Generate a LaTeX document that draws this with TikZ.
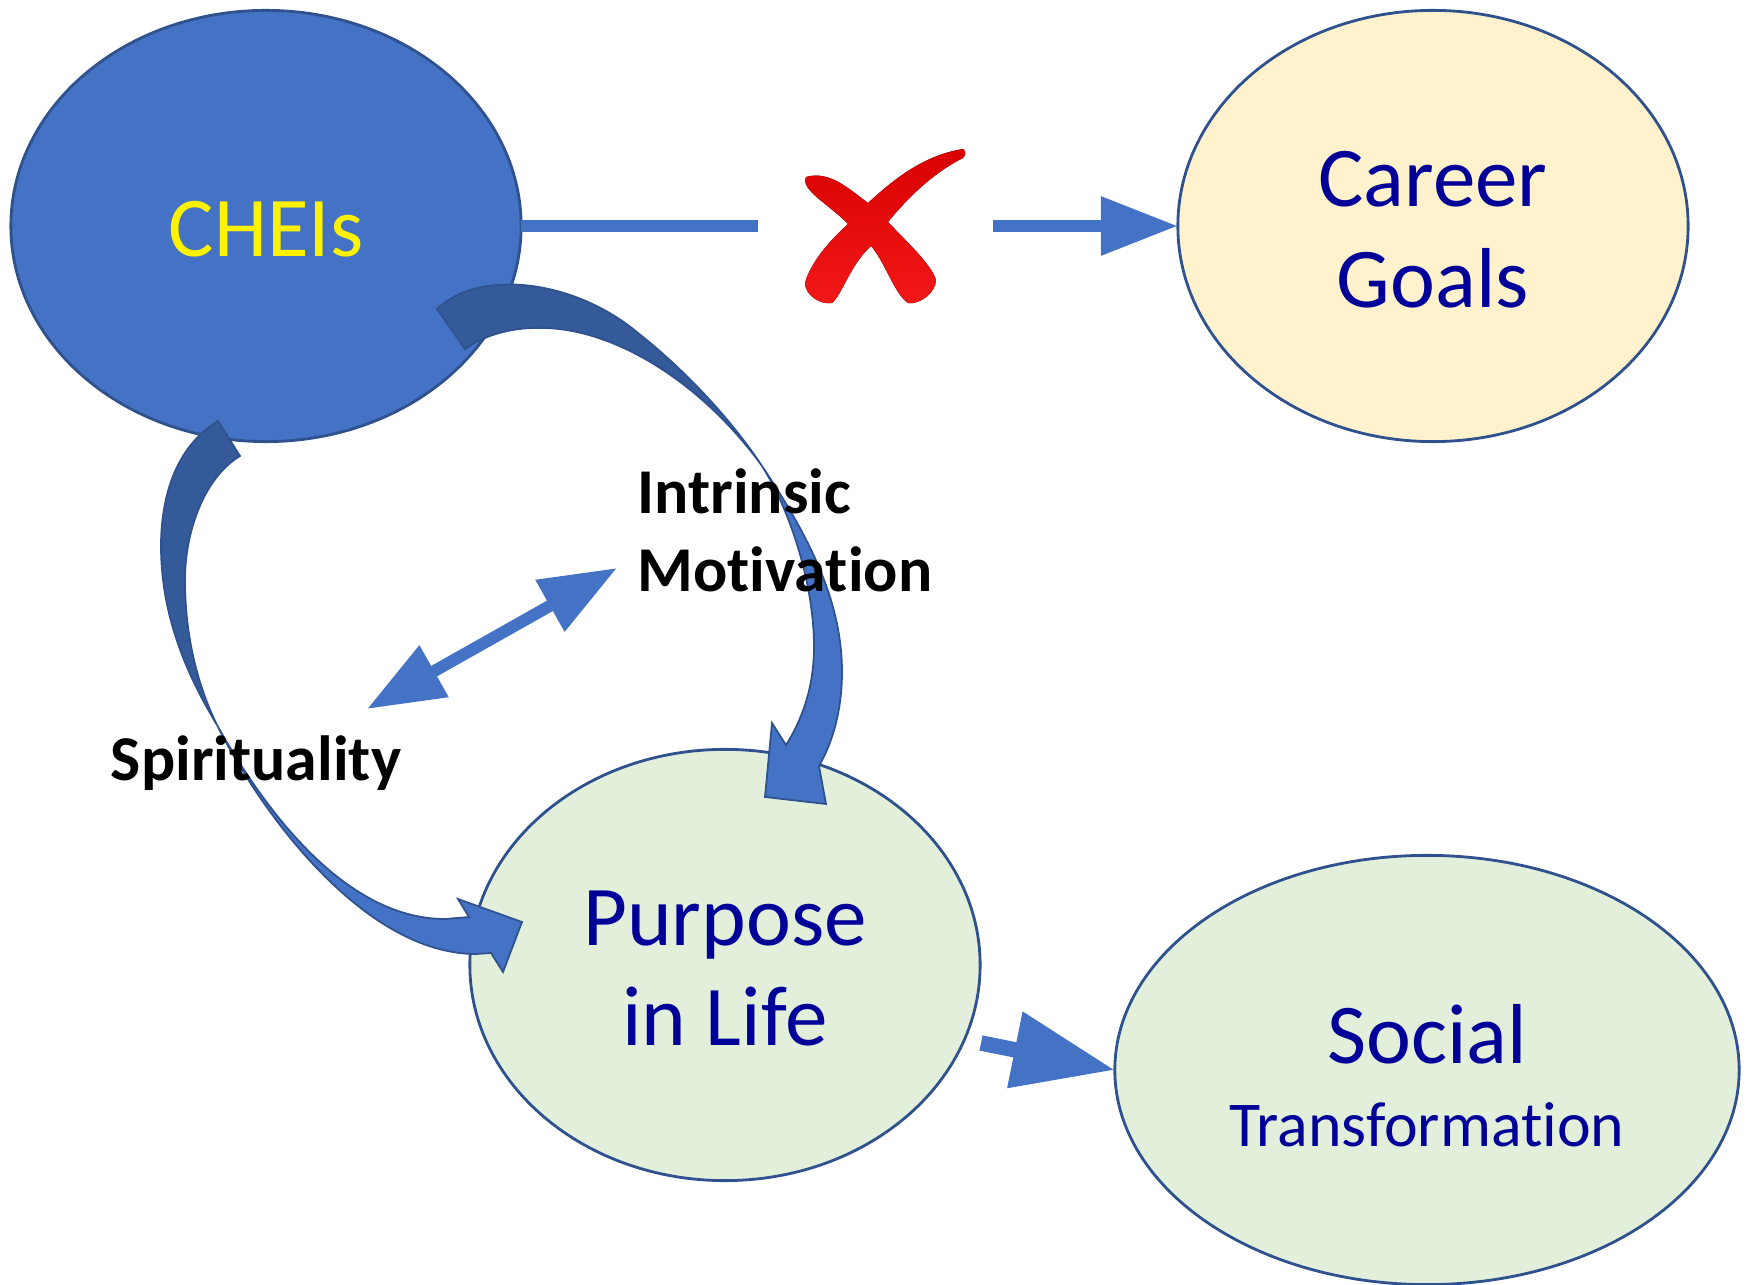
\documentclass[tikz,border=0pt]{standalone}
\usepackage{fontspec}
\setmainfont{Carlito}[Ligatures=NoCommon]
\usetikzlibrary{arrows.meta,positioning,shapes.geometric}

\definecolor{blockblue}{HTML}{4472C4}
\definecolor{edgeblue}{HTML}{2F528F}
\definecolor{tailblue}{HTML}{355A9A}
\definecolor{textblue}{HTML}{000099}
\definecolor{careerfill}{HTML}{FFF2CC}
\definecolor{purposefill}{HTML}{E2EFDA}

\tikzset{
  goal/.style={ellipse,draw=edgeblue,line width=0.8pt,inner sep=0pt,outer sep=0pt,
    minimum width=5.1cm,minimum height=4.31cm},
  goaltext/.style={align=center,text=textblue,inner sep=0pt,
    font=\fontsize{24.2}{28.7}\selectfont},
  factor/.style={font=\bfseries\fontsize{18.15}{22.2}\selectfont,align=left,inner sep=0pt},
  flow/.style={blockblue,line width=3.4pt,-{Triangle[length=21.9pt,width=16pt]}},
  wedgetail/.style={fill=tailblue,draw=edgeblue,line width=0.5pt},
  wedgehead/.style={fill=blockblue,draw=edgeblue,line width=0.5pt}
}

\begin{document}
\begin{tikzpicture}[x=0.01cm,y=-0.01cm]
\useasboundingbox (0,0) rectangle (1750,1285);

% Ellipses
\node[goal,fill=blockblue] (cheis) at (266,226) {};
\node[goal,fill=careerfill] (career) at (1433,226) {};
\node[goal,fill=purposefill] (purpose) at (725,965) {};
\node[goal,fill=purposefill,minimum width=6.24cm,minimum height=4.29cm] (social) at (1427,1070) {};

% Their texts
\node[goaltext,text=yellow] (cheistext) at ([yshift=-1pt]cheis) {CHEIs};
\node[goaltext] (careertext) at ([yshift=-1pt]career) {Career\\Goals};
\node[goaltext] (purposetext) at ([yshift=-1pt]purpose) {Purpose\\in Life};
\node[goaltext] (socialtext) at ([yshift=-1.6pt]social)
  {Social\\[-5.2pt]{\fontsize{18.15}{22}\selectfont Transformation}};

% Broken link to career goals
\coordinate (gapleft) at (758,226);
\coordinate (gapright) at (993,226);
\draw[blockblue,line width=3.4pt] (cheis.east) -- (gapleft);
\draw[flow] (gapright) -- (career.west);

% Red cross
\fill[top color=red!85!black,bottom color=red!90!white!95!black]
  (963,149) .. controls (925,155) and (895,178) .. (868,203)
  .. controls (850,190) and (830,170) .. (806,177)
  .. controls (800,190) and (830,205) .. (848,224)
  .. controls (825,245) and (810,265) .. (805,283)
  .. controls (805,295) and (820,305) .. (832,303)
  .. controls (842,295) and (850,265) .. (871,246)
  .. controls (885,262) and (895,295) .. (908,303)
  .. controls (920,305) and (936,292) .. (936,280)
  .. controls (932,265) and (905,240) .. (888,222)
  .. controls (910,195) and (935,172) .. (963,158)
  .. controls (966,155) and (966,151) .. (963,149) -- cycle;

% Wedge arrows
\coordinate (upperpinch) at (762,466);
\coordinate (lowerpinch) at (217,725);

\fill[wedgehead] (upperpinch) .. controls (808,535) and (842,600) .. (842,672)
  .. controls (842,705) and (835,738) .. (819,766)
  -- (826,804) -- (765,797) -- (772,723) -- (786,745)
  .. controls (805,715) and (814,682) .. (814,647)
  .. controls (814,585) and (791,512) .. (upperpinch) -- cycle;
\fill[wedgetail] (437,309) .. controls (480,268) and (575,280) .. (638,333)
  .. controls (690,374) and (735,425) .. (upperpinch)
  .. controls (700,380) and (610,326) .. (537,328)
  .. controls (510,328) and (485,335) .. (465,349) -- cycle;

\fill[wedgehead] (lowerpinch) .. controls (262,815) and (365,954) .. (476,954)
  -- (491,953) -- (503,972) -- (522,922) -- (458,899) -- (469,917)
  -- (445,919) .. controls (350,919) and (270,820) .. (lowerpinch) -- cycle;
\fill[wedgetail] (218,421) .. controls (175,447) and (161,498) .. (161,546)
  .. controls (161,620) and (190,680) .. (lowerpinch)
  .. controls (195,680) and (185,630) .. (185,580)
  .. controls (185,530) and (205,477) .. (240,456) -- cycle;

% Arrow between the two factors
\coordinate (spiritend) at (367,709);
\coordinate (intrinsicend) at (617,568);
\draw[blockblue,line width=3.4pt,{Triangle[length=21.9pt,width=16pt]}-{Triangle[length=21.9pt,width=16pt]}]
  (spiritend) -- (intrinsicend);

% Purpose feeds social transformation
\coordinate (purposeout) at (981,1043);
\draw[blockblue,line width=4.4pt,-{Triangle[length=29pt,width=21pt]}] (purposeout) -- (social.west);

% Labels
\node[factor,anchor=west] (intrinsic) at (637,530) {Intrinsic\\Motivation};
\node[factor] (spirit) at (256,763) {Spirituality};
\end{tikzpicture}
\end{document}
